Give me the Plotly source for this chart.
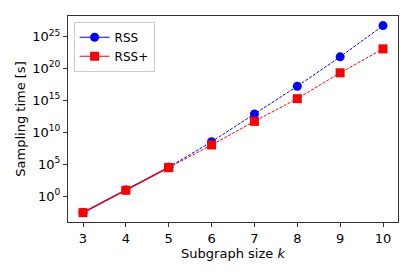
import plotly.graph_objects as go

k = [3, 4, 5, 6, 7, 8, 9, 10]
rss_exp = [-2.6, 0.95, 4.5, 8.5, 12.85, 17.2, 21.8, 26.7]
rssp_exp = [-2.6, 0.9, 4.45, 8.0, 11.7, 15.25, 19.3, 23.05]
rss = [10.0 ** e for e in rss_exp]
rssp = [10.0 ** e for e in rssp_exp]
n_measured = 3  # k = 3..5 measured (solid), rest extrapolated (dashed)

ytick_exp = [0, 5, 10, 15, 20, 25]
ytick_vals = [10.0 ** e for e in ytick_exp]
ytick_text = ["10<sup>%d</sup>" % e for e in ytick_exp]

font = "DejaVu Sans"
fig = go.Figure()

series = [("RSS", rss, "#0000ff", "circle"), ("RSS+", rssp, "#ff0000", "square")]
for name, vals, col, sym in series:
    fig.add_trace(go.Scatter(
        x=k[n_measured - 1:], y=vals[n_measured - 1:], mode="lines+markers",
        line=dict(color=col, width=1, dash="3px,1.5px"),
        marker=dict(color=col, size=9, symbol=sym),
        showlegend=False, legendgroup=name, name=name))
    fig.add_trace(go.Scatter(
        x=k[:n_measured], y=vals[:n_measured], mode="lines+markers",
        line=dict(color=col, width=1.2),
        marker=dict(color=col, size=9, symbol=sym),
        showlegend=True, legendgroup=name, name=name))

fig.update_layout(
    template="none",
    width=415, height=277,
    margin=dict(l=68, r=17, t=16, b=55, autoexpand=False),
    plot_bgcolor="white", paper_bgcolor="white",
    font=dict(family=font, size=13, color="black"),
    legend=dict(x=0.017, y=0.972, xanchor="left", yanchor="top",
                bgcolor="rgba(255,255,255,0.8)", bordercolor="#cccccc",
                borderwidth=1, font=dict(size=12), tracegroupgap=0,
                traceorder="normal", itemwidth=30),
    xaxis=dict(range=[2.65, 10.35], tickvals=k, ticks="outside", ticklen=4,
               tickcolor="#333", showline=True, linecolor="#333", linewidth=1,
               mirror=True, showgrid=False, zeroline=False, automargin=False,
               title=dict(text="Subgraph size <i>k</i>", standoff=4,
                          font=dict(size=13))),
    yaxis=dict(type="log", range=[-4.07, 28.2], tickvals=ytick_vals,
               ticktext=ytick_text, ticks="outside", ticklen=4, tickcolor="#333",
               showline=True, linecolor="#333", linewidth=1, mirror=True,
               showgrid=False, zeroline=False, automargin=False,
               title=dict(text="Sampling time [s]", standoff=3,
                          font=dict(size=13))),
)

fig.write_html("out.html", config={"displayModeBar": False},
               post_script="document.body.style.margin='0';document.body.style.overflow='hidden';")
